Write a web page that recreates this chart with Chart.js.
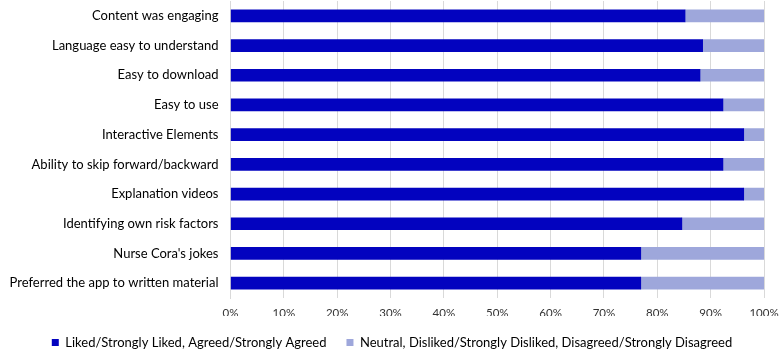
<!DOCTYPE html>
<html>
<head>
<meta charset="utf-8">
<script src="https://cdn.jsdelivr.net/npm/chart.js@4"></script>
<style>
  html, body { margin: 0; padding: 0; background: #fff; }
  #wrap { width: 780px; height: 350px; }
</style>
</head>
<body>
<div id="wrap"><canvas id="chart"></canvas></div>
<script>
const categories = [
    "Content was engaging",
    "Language easy to understand",
    "Easy to download",
    "Easy to use",
    "Interactive Elements",
    "Ability to skip forward/backward",
    "Explanation videos",
    "Identifying own risk factors",
    "Nurse Cora's jokes",
    "Preferred the app to written material"
];

const liked = [85.2, 88.5, 88.0, 92.3, 96.2, 92.3, 96.2, 84.6, 76.9, 76.9];
const neutral = liked.map(v => 100 - v);

const seriesLabels = [
    "Liked/Strongly Liked, Agreed/Strongly Agreed",
    "Neutral, Disliked/Strongly Disliked, Disagreed/Strongly Disagreed"
];

const fontFamily = "Lato, 'Open Sans', sans-serif";

// legend keeps its 20px item gap but takes less height, and sits a bit to the right
const legendTrim = {
    id: 'legendTrim',
    afterInit(chart) {
        const legend = chart.legend;
        const fit = legend.fit.bind(legend);
        legend.fit = function () {
            fit();
            this.height -= 9;
        };
    },
    afterLayout(chart) {
        chart.legend.left += 20;
    }
};

const config = {
    type: 'bar',
    data: {
        labels: categories,
        datasets: [
            {label: seriesLabels[0], data: liked, backgroundColor: '#0303bf', barThickness: 12},
            {label: seriesLabels[1], data: neutral, backgroundColor: '#9ea7db', barThickness: 12}
        ]
    },
    options: {
        indexAxis: 'y',
        responsive: true,
        maintainAspectRatio: false,
        animation: false,
        layout: {padding: {top: 1, right: 16, left: 0, bottom: 0}},
        plugins: {
            tooltip: {enabled: false},
            legend: {
                position: 'bottom',
                labels: {
                    boxWidth: 7,
                    boxHeight: 7,
                    padding: 20,
                    color: '#000',
                    font: {family: fontFamily, size: 13}
                }
            }
        },
        scales: {
            x: {
                stacked: true,
                min: 0,
                max: 100,
                ticks: {
                    stepSize: 10,
                    padding: 8,
                    color: '#333',
                    font: {family: fontFamily, size: 11.5},
                    callback: v => v + '%'
                },
                grid: {color: '#d9d9d9', tickLength: 0},
                border: {display: false},
                afterFit(scale) {
                    scale.height = 18;
                    scale.paddingRight = 0;
                }
            },
            y: {
                stacked: true,
                ticks: {
                    padding: 12,
                    color: '#000',
                    font: {family: fontFamily, size: 13}
                },
                grid: {display: false, tickLength: 0},
                border: {color: '#d9d9d9'},
                afterFit(scale) {
                    scale.width = 230.5;
                    scale.paddingTop = 0;
                    scale.paddingBottom = 0;
                }
            }
        }
    },
    plugins: [legendTrim]
};

new Chart(document.getElementById('chart'), config);
</script>
</body>
</html>
